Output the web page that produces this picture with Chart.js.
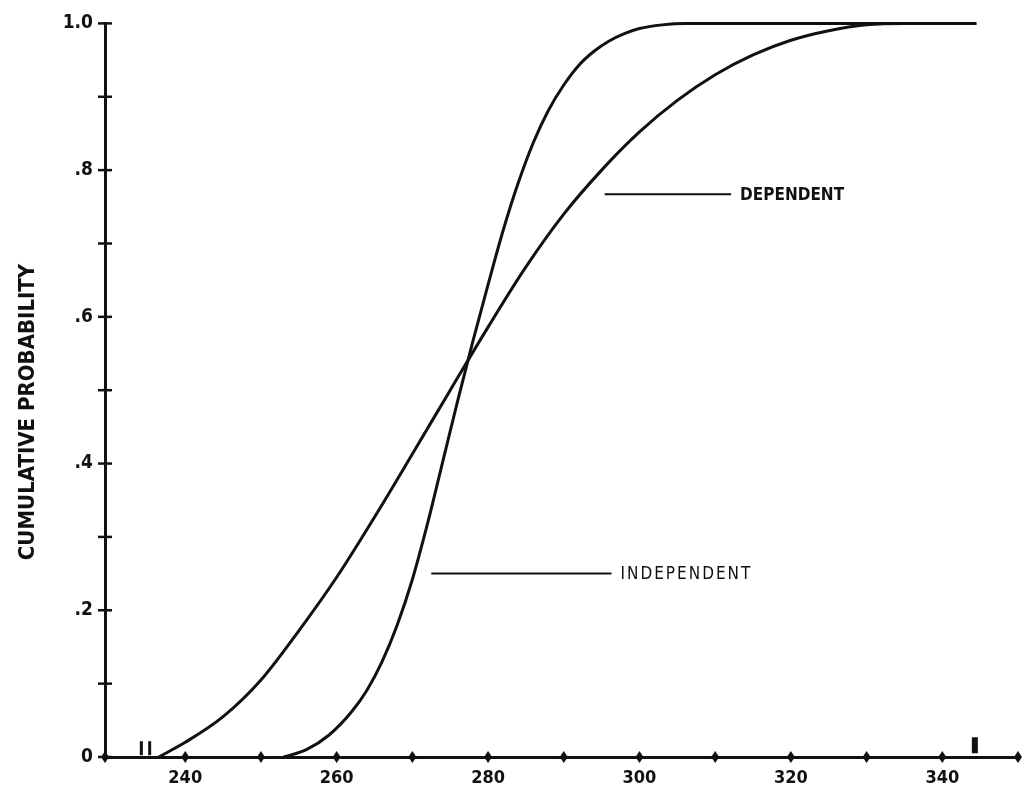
<!DOCTYPE html>
<html>
<head>
<meta charset="utf-8">
<script src="https://cdn.jsdelivr.net/npm/chart.js@4.4.1/dist/chart.umd.min.js"></script>
<style>
  html, body { margin: 0; padding: 0; background: #fff; }
  #wrap { width: 1032px; height: 791px; }
</style>
</head>
<body>
<div id="wrap"><canvas id="cdf" width="1032" height="791"></canvas></div>
<script>
// values
const xMin = 229.4;
const xMax = 350;
const xTicks      = [229.4, 240, 250, 260, 270, 280, 290, 300, 310, 320, 330, 340, 350];
const xTickLabels = ['', '240', '', '260', '', '280', '', '300', '', '320', '', '340', ''];
const yTicks      = [0, 0.1, 0.2, 0.3, 0.4, 0.5, 0.6, 0.7, 0.8, 0.9, 1.0];
const yTickLabels = ['0', '', '.2', '', '.4', '', '.6', '', '.8', '', '1.0'];

const dependentX = [236.5, 240, 245, 250, 255, 260, 265, 270, 275, 280, 285, 290,
                    295, 300, 305, 310, 315, 320, 325, 330, 335, 344.5];
const dependentY = [0, 0.020, 0.055, 0.105, 0.172, 0.245, 0.327, 0.413, 0.500, 0.586, 0.668, 0.740,
                    0.800, 0.852, 0.895, 0.930, 0.957, 0.977, 0.990, 0.998, 1.0, 1.0];

const independentX = [253, 256, 259, 262, 264, 266, 268, 270, 272, 274, 276, 278, 280,
                      282, 284, 286, 288, 290, 292, 294, 296, 298, 300, 303, 306, 344.5];
const independentY = [0, 0.010, 0.030, 0.062, 0.091, 0.130, 0.180, 0.242, 0.318, 0.402, 0.486, 0.567, 0.644,
                      0.718, 0.783, 0.838, 0.882, 0.916, 0.943, 0.962, 0.976, 0.986, 0.993, 0.998, 1.0, 1.0];

// little marks standing on the x axis
const thinMarkX  = [234.2, 235.3];
const thickMarkX = [344.3];
const markLevel  = 0.012;

// curve labels with their leader lines
const labelNames    = ['DEPENDENT', 'INDEPENDENT'];
const labelLineFrom = [295.4, 272.5];
const labelLineTo   = [312.1, 296.3];
const labelLevel    = [0.767, 0.25];
const labelBold     = [true, false];

const yTitle = 'CUMULATIVE PROBABILITY';

const FONT = "'Liberation Sans Narrow', 'DejaVu Sans Condensed', 'Liberation Sans', sans-serif";
const INK  = '#111';

function pts(xs, ys) {
  return xs.map((x, i) => ({ x, y: ys[i] }));
}

// cross ticks on the y axis, diamonds on the x axis, labels, axis title
const decorPlugin = {
  id: 'decor',
  afterDraw(chart) {
    const ctx = chart.ctx;
    const xs = chart.scales.x;
    const ys = chart.scales.y;
    const left = chart.chartArea.left;
    const bottom = chart.chartArea.bottom;

    ctx.save();
    ctx.strokeStyle = INK;
    ctx.fillStyle = INK;

    ctx.lineWidth = 2.5;
    yTicks.forEach(v => {
      const py = ys.getPixelForValue(v);
      ctx.beginPath();
      ctx.moveTo(left - 7, py);
      ctx.lineTo(left + 7, py);
      ctx.stroke();
    });

    xTicks.forEach(v => {
      const px = xs.getPixelForValue(v);
      ctx.beginPath();
      ctx.moveTo(px, bottom - 6);
      ctx.lineTo(px + 4, bottom);
      ctx.lineTo(px, bottom + 6);
      ctx.lineTo(px - 4, bottom);
      ctx.closePath();
      ctx.fill();
    });

    labelNames.forEach((name, i) => {
      const x0 = xs.getPixelForValue(labelLineFrom[i]);
      const x1 = xs.getPixelForValue(labelLineTo[i]);
      const py = ys.getPixelForValue(labelLevel[i]);
      ctx.lineWidth = 2;
      ctx.beginPath();
      ctx.moveTo(x0, py);
      ctx.lineTo(x1, py);
      ctx.stroke();
      ctx.font = (labelBold[i] ? 'bold ' : '') + '17px ' + FONT;
      ctx.letterSpacing = labelBold[i] ? '0px' : '2px';
      ctx.textAlign = 'left';
      ctx.textBaseline = 'middle';
      ctx.fillText(name, x1 + 9, py + 1);
    });
    ctx.letterSpacing = '0px';

    ctx.translate(28, 412);
    ctx.rotate(-Math.PI / 2);
    ctx.font = 'bold 22px ' + FONT;
    ctx.textAlign = 'center';
    ctx.textBaseline = 'middle';
    ctx.fillText(yTitle, 0, 0);
    ctx.restore();
  }
};

new Chart(document.getElementById('cdf'), {
  type: 'scatter',
  data: {
    datasets: [
      {
        label: 'Dependent',
        data: pts(dependentX, dependentY),
        showLine: true,
        borderColor: INK,
        borderWidth: 3,
        pointRadius: 0,
        cubicInterpolationMode: 'monotone'
      },
      {
        label: 'Independent',
        data: pts(independentX, independentY),
        showLine: true,
        borderColor: INK,
        borderWidth: 3,
        pointRadius: 0,
        cubicInterpolationMode: 'monotone'
      },
      {
        label: 'marks',
        data: thinMarkX.map(x => ({ x, y: markLevel })),
        pointStyle: 'line',
        rotation: 90,
        pointRadius: 7,
        borderColor: INK,
        pointBorderWidth: 3
      },
      {
        label: 'mark',
        data: thickMarkX.map(x => ({ x, y: markLevel + 0.004 })),
        pointStyle: 'line',
        rotation: 90,
        pointRadius: 8,
        borderColor: INK,
        pointBorderWidth: 6
      }
    ]
  },
  options: {
    responsive: false,
    devicePixelRatio: 1,
    animation: false,
    clip: false,
    layout: { padding: { top: 20, right: 3, left: 0, bottom: 0 } },
    plugins: {
      legend: { display: false },
      tooltip: { enabled: false }
    },
    scales: {
      x: {
        type: 'linear',
        min: xMin,
        max: xMax,
        afterBuildTicks: s => { s.ticks = xTicks.map(v => ({ value: v })); },
        afterFit: s => { s.height = 34; },
        grid: { display: true, drawOnChartArea: false, drawTicks: false },
        border: { display: true, width: 3, color: INK },
        ticks: {
          autoSkip: false,
          maxRotation: 0,
          padding: 11,
          color: INK,
          font: { family: FONT, size: 18, weight: 'bold' },
          callback: (v, i) => xTickLabels[i]
        }
      },
      y: {
        type: 'linear',
        min: 0,
        max: 1,
        afterBuildTicks: s => { s.ticks = yTicks.map(v => ({ value: v })); },
        afterFit: s => { s.width = 105; },
        grid: { display: true, drawOnChartArea: false, drawTicks: false },
        border: { display: true, width: 3, color: INK },
        ticks: {
          autoSkip: false,
          padding: 12,
          color: INK,
          font: { family: FONT, size: 19, weight: 'bold' },
          callback: (v, i) => yTickLabels[i]
        }
      }
    }
  },
  plugins: [decorPlugin]
});
</script>
</body>
</html>
